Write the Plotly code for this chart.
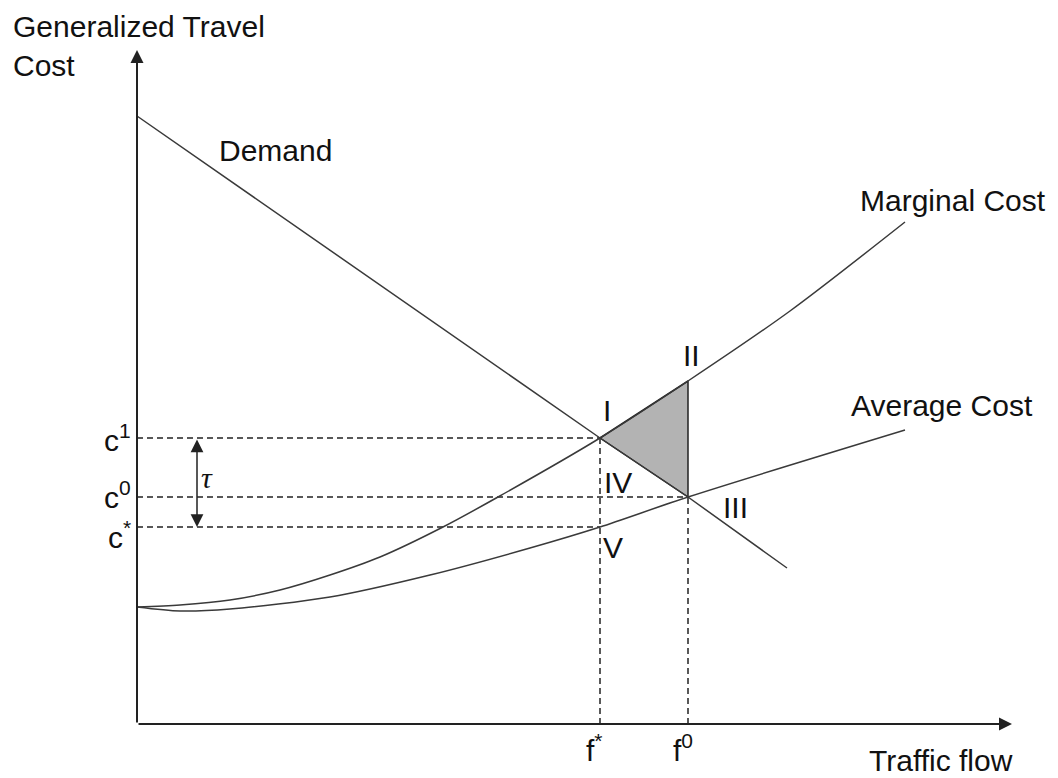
import plotly.graph_objects as go

# values (flow / cost units, origin at the axes corner)
f_star = 463
f_zero = 551
c_one = 286
c_zero = 227
c_star = 197
axis_x_end = 875
axis_y_end = 674
tau_x = 60

demand_x = [0, 463, 551, 650]
demand_y = [608, 286, 227, 156]

mc_x = [0, 43, 93, 143, 193, 243, 306, 361, 463, 551, 653, 768]
mc_y = [117, 119, 124, 134, 149, 167, 197, 227, 286, 343, 413, 502]

ac_x = [0, 43, 93, 193, 293, 393, 463, 551, 768]
ac_y = [117, 113, 115, 127, 149, 176, 197, 227, 294]

# welfare-loss triangle: I, II, f0 point
tri_x = [f_star, f_zero, f_zero, f_star]
tri_y = [c_one, 343, c_zero, c_one]

FONT = "Liberation Sans, Arial, sans-serif"
LINE = "#3a3a3a"

fig = go.Figure()

# dashed guide lines
dash_lines = [
    ([0, f_star], [c_one, c_one]),
    ([0, f_zero], [c_zero, c_zero]),
    ([0, f_star], [c_star, c_star]),
    ([f_star, f_star], [0, c_one]),
    ([f_zero, f_zero], [0, c_zero]),
]
for xs, ys in dash_lines:
    fig.add_trace(go.Scatter(x=xs, y=ys, mode="lines", showlegend=False, hoverinfo="skip",
                             line=dict(color="#222", width=1.5, dash="6px,4px")))

fig.add_trace(go.Scatter(x=tri_x, y=tri_y, mode="lines", fill="toself", fillcolor="#b3b3b3",
                         line=dict(color="#222", width=1.5), showlegend=False, hoverinfo="skip"))

fig.add_trace(go.Scatter(x=demand_x, y=demand_y, mode="lines", name="Demand", showlegend=False,
                         line=dict(color=LINE, width=1.5)))
fig.add_trace(go.Scatter(x=mc_x, y=mc_y, mode="lines", name="Marginal Cost", showlegend=False,
                         line=dict(color=LINE, width=1.5, shape="spline", smoothing=0.8)))
fig.add_trace(go.Scatter(x=ac_x, y=ac_y, mode="lines", name="Average Cost", showlegend=False,
                         line=dict(color=LINE, width=1.5, shape="spline", smoothing=0.8)))

# axes with arrow heads
for hx, hy in [(axis_x_end, 0), (0, axis_y_end)]:
    fig.add_annotation(x=hx, y=hy, ax=0, ay=0, xref="x", yref="y", axref="x", ayref="y",
                       text="", showarrow=True, arrowhead=2, arrowsize=1.3, arrowwidth=2,
                       arrowcolor="#222")

# tau double arrow
fig.add_annotation(x=tau_x, y=c_star, ax=tau_x, ay=c_one, xref="x", yref="y", axref="x", ayref="y",
                   text="", showarrow=True, arrowhead=2, startarrowhead=2, arrowside="end+start",
                   arrowsize=1.7, arrowwidth=1.5, startarrowsize=1.7, arrowcolor="#222")

labels = [
    ("Demand", 138, 574, "center"),
    ("Marginal Cost", 816, 524, "center"),
    ("Average Cost", 805, 319, "center"),
    ("Traffic flow", 804, -36, "center"),
    ("I", 470, 314, "center"),
    ("II", 554, 369, "center"),
    ("III", 598, 217, "center"),
    ("IV", 481, 242, "center"),
    ("V", 476, 177, "center"),
    ("f<sup>*</sup>", 457, -24, "center"),
    ("f<sup>0</sup>", 546, -24, "center"),
    ("c<sup>1</sup>", -4, 286, "right"),
    ("c<sup>0</sup>", -4, 229, "right"),
    ("c<sup>*</sup>", -4, 189, "right"),
]
for txt, lx, ly, anchor in labels:
    fig.add_annotation(x=lx, y=ly, xref="x", yref="y", text=txt, showarrow=False,
                       xanchor=anchor, yanchor="middle",
                       font=dict(family=FONT, size=30, color="#111"))

fig.add_annotation(x=-126, y=716, xref="x", yref="y", text="Generalized Travel<br>Cost",
                   showarrow=False, xanchor="left", yanchor="top", align="left",
                   font=dict(family=FONT, size=30, color="#111"))

fig.add_annotation(x=tau_x + 10, y=247, xref="x", yref="y", text="<i>τ</i>", showarrow=False,
                   xanchor="center", yanchor="middle",
                   font=dict(family="Liberation Serif, Times New Roman, serif", size=30, color="#111"))

# page body keeps an 8px margin, so the figure is 8px smaller each way
fig.update_layout(width=1050, height=770, margin=dict(l=0, r=0, t=0, b=0),
                  paper_bgcolor="white", plot_bgcolor="white",
                  xaxis=dict(range=[-129, 921], visible=False, fixedrange=True),
                  yaxis=dict(range=[-54, 716], visible=False, fixedrange=True))

fig.write_html("out.html")
